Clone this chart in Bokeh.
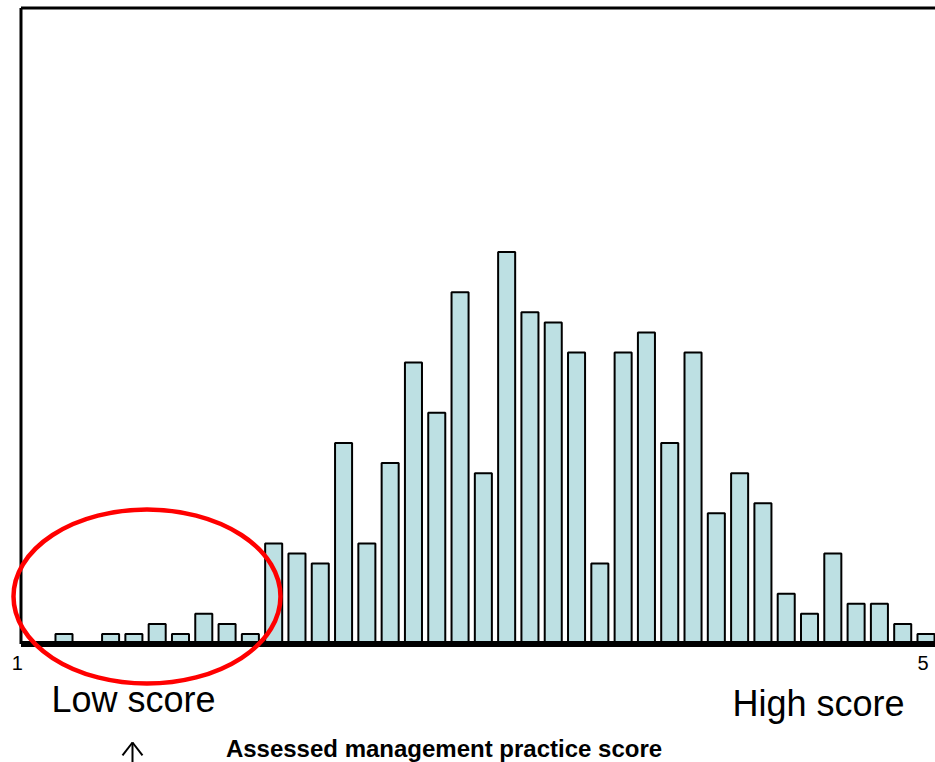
from bokeh.plotting import figure
from bokeh.models import Range1d
from bokeh.embed import file_html
from bokeh.resources import INLINE
from bokeh.core.properties import value

# ---- data ----
score_min = 1.0
score_max = 5.0
n_bins = 39
bin_index = list(range(2, 40))
counts = [1, 0, 1, 1, 2, 1, 3, 2, 1, 10, 9, 8, 20, 10, 18, 28, 23, 35, 17, 39,
          33, 32, 29, 8, 29, 31, 20, 29, 13, 17, 14, 5, 3, 9, 4, 4, 2, 1]
tick_values = [1, 5]
tick_labels = ["1", "5"]
low_label = "Low score"
high_label = "High score"
x_title = "Assessed management practice score"

bin_step = (score_max - score_min) / n_bins
bin_centers = [score_min + k * bin_step for k in bin_index]

FONT = value("Liberation Sans")

p = figure(width=935, height=762, output_backend="svg", toolbar_location=None,
           x_range=Range1d(0.9256, 5.0418), y_range=Range1d(-11.79, 64.03),
           x_axis_location=None, y_axis_location=None, min_border=0,
           outline_line_color=None, background_fill_color="white",
           border_fill_color="white")
p.grid.grid_line_color = None

y_top = 63.28
x_left = 1.0158
x_right = 5.0418

# bars
p.vbar(x=bin_centers, top=counts, bottom=0, width=0.075,
       fill_color="#bde0e3", line_color="black", line_width=2)

# frame lines and baseline
p.segment(x0=[x_left], y0=[0], x1=[x_left], y1=[y_top], line_color="black", line_width=3)
p.segment(x0=[x_left], y0=[y_top], x1=[x_right], y1=[y_top], line_color="black", line_width=3)
p.segment(x0=[x_left], y0=[0], x1=[x_right], y1=[0], line_color="black", line_width=6)

# tick labels
p.text(x=[tick_values[0], tick_values[1] - 0.013], y=[-1.84, -1.84], text=tick_labels,
       text_font=FONT, text_font_size="20px", text_align="center",
       text_baseline="alphabetic", text_color="black")

# low / high labels
p.text(x=[1.150], y=[-5.53], text=[low_label], text_font=FONT, text_font_size="36px",
       text_align="left", text_baseline="alphabetic", text_color="black")
p.text(x=[4.148], y=[-5.92], text=[high_label], text_font=FONT, text_font_size="36px",
       text_align="left", text_baseline="alphabetic", text_color="black")

# axis title
p.text(x=[2.878], y=[-10.42], text=[x_title], text_font=FONT, text_font_size="24px",
       text_font_style="bold", text_align="center", text_baseline="alphabetic",
       text_color="black")

# open arrow pointing up (under the low-score region)
tip_x, tip_y = 1.5067, -9.80
p.segment(x0=[tip_x, tip_x, tip_x], y0=[tip_y, tip_y, tip_y],
          x1=[tip_x, tip_x - 0.044, tip_x + 0.044], y1=[-11.79, -11.09, -11.09],
          line_color="black", line_width=2)

# red ellipse highlighting low scores
p.ellipse(x=[1.5705], y=[4.726], width=[1.1754], height=[17.31],
          fill_color=None, line_color="#ff0000", line_width=4.5)

open("out.html", "w").write(file_html(p, INLINE))
